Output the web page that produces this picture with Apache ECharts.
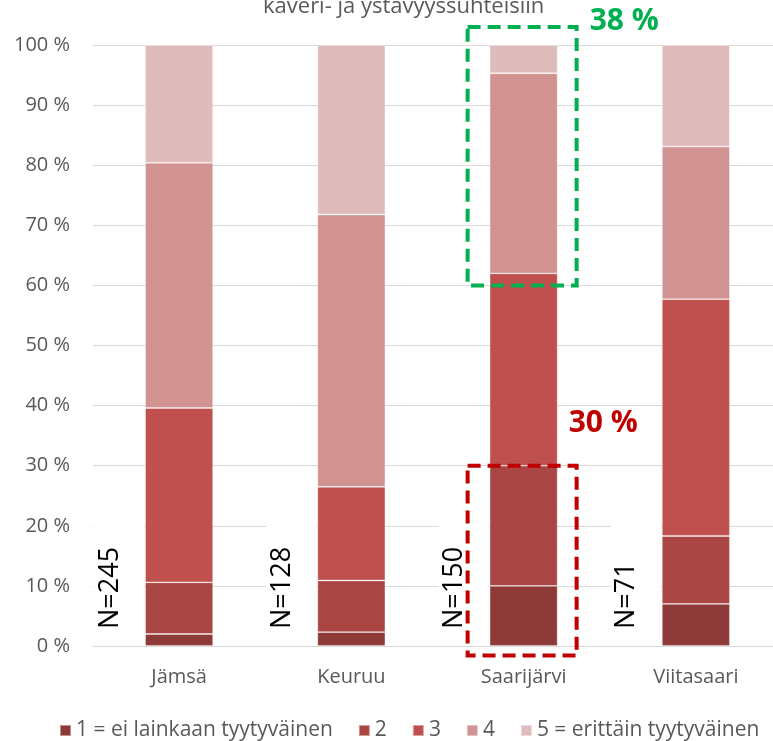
<!DOCTYPE html>
<html>
<head>
<meta charset="utf-8">
<script src="https://cdn.jsdelivr.net/npm/echarts@6/dist/echarts.min.js"></script>
<style>
  html, body { margin: 0; padding: 0; background: #fff; }
  #main { width: 773px; height: 741px; }
</style>
</head>
<body>
<div id="main"></div>
<script>
// paikkakunnat ja vastaajamäärät
const kunnat = ['Jämsä', 'Keuruu', 'Saarijärvi', 'Viitasaari'];
const nLuvut = ['N=245', 'N=128', 'N=150', 'N=71'];

// osuudet (%) vastausvaihtoehdoittain
const v1 = [2.0, 2.3, 10.0, 7.0];
const v2 = [8.6, 8.6, 20.0, 11.3];
const v3 = [29.0, 15.6, 32.0, 39.4];
const v4 = [40.8, 45.3, 33.3, 25.4];
const v5 = [19.6, 28.2, 4.7, 16.9];

const sarjaNimet = ['1 = ei lainkaan tyytyväinen', '2', '3', '4', '5 = erittäin tyytyväinen'];
const varit = ['#8E3A38', '#A94643', '#C0504D', '#D19391', '#E0BBBB'];

// korostukset Saarijärven pylväässä
const korostusKunta = 'Saarijärvi';
const vihreaTeksti = '38 %';
const punainenTeksti = '30 %';

const fontti = '"Open Sans", "Noto Sans", sans-serif';
const harmaa = '#595959';

let myChart = echarts.init(document.getElementById('main'));

let option = {
    backgroundColor: '#fff',
    animation: false,
    title: {
        text: 'kaveri- ja ystävyyssuhteisiin',
        left: 258,
        top: -9,
        textStyle: {
            color: harmaa,
            fontFamily: fontti,
            fontWeight: 'normal',
            fontSize: 22
        }
    },
    grid: {
        left: 93,
        width: 689,
        top: 45,
        bottom: 95,
        outerBoundsMode: 'none',
        containLabel: false
    },
    legend: {
        bottom: -5,
        left: 54,
        icon: 'rect',
        itemWidth: 11,
        itemHeight: 11,
        itemGap: 25,
        textStyle: {
            color: harmaa,
            fontFamily: fontti,
            fontSize: 21
        },
        data: sarjaNimet
    },
    xAxis: {
        type: 'category',
        data: kunnat,
        axisLine: { lineStyle: { color: '#D9D9D9', width: 1 } },
        axisTick: { show: false },
        axisLabel: {
            color: harmaa,
            fontFamily: fontti,
            fontSize: 20,
            margin: 21
        }
    },
    yAxis: {
        type: 'value',
        min: 0,
        max: 100,
        interval: 10,
        axisLine: { show: false },
        axisTick: { show: false },
        splitLine: { lineStyle: { color: '#D9D9D9', width: 1 } },
        axisLabel: {
            color: harmaa,
            fontFamily: fontti,
            fontSize: 20,
            margin: 23,
            formatter: '{value} %'
        }
    },
    series: [v1, v2, v3, v4, v5].map(function (arvot, i) {
        return {
            name: sarjaNimet[i],
            type: 'bar',
            stack: 'kaikki',
            barWidth: 68,
            data: arvot,
            itemStyle: {
                color: varit[i],
                borderColor: 'rgba(255,255,255,0.45)',
                borderWidth: 0.8
            }
        };
    })
};
myChart.setOption(option);

// N-tekstit, katkoviivalaatikot ja prosenttitekstit lasketaan akselien kautta
function piirraLisat() {
    let grafiikka = [];
    let kaistaLeveys = myChart.convertToPixel({ xAxisIndex: 0 }, kunnat[1]) - myChart.convertToPixel({ xAxisIndex: 0 }, kunnat[0]);
    let nollaY = myChart.convertToPixel({ yAxisIndex: 0 }, 0);

    for (let i = 0; i < kunnat.length; i++) {
        let cx = myChart.convertToPixel({ xAxisIndex: 0 }, kunnat[i]);
        let vasen = cx - kaistaLeveys / 2;
        grafiikka.push({
            type: 'rect',
            shape: { x: vasen + 1, y: nollaY - 126, width: 50, height: 124 },
            style: { fill: '#fff' },
            z: 5
        });
        grafiikka.push({
            type: 'text',
            x: vasen + 17,
            y: nollaY - 17,
            rotation: Math.PI / 2,
            style: {
                text: nLuvut[i],
                fill: '#000',
                font: '27px ' + fontti,
                align: 'left',
                verticalAlign: 'middle'
            },
            z: 6
        });
    }

    let kx = myChart.convertToPixel({ xAxisIndex: 0 }, korostusKunta);
    let laatikkoVasen = kx - 56;
    let laatikkoLeveys = 109;

    // vihreä laatikko 60 %:sta yläreunan yli
    let vYla = myChart.convertToPixel({ yAxisIndex: 0 }, 103);
    let vAla = myChart.convertToPixel({ yAxisIndex: 0 }, 60);
    grafiikka.push({
        type: 'rect',
        shape: { x: laatikkoVasen, y: vYla, width: laatikkoLeveys, height: vAla - vYla },
        style: { fill: 'none', stroke: '#00B050', lineWidth: 4, lineDash: [13, 7] },
        z: 10
    });
    grafiikka.push({
        type: 'text',
        x: kx + 66,
        y: myChart.convertToPixel({ yAxisIndex: 0 }, 104),
        style: {
            text: vihreaTeksti,
            fill: '#00B050',
            font: 'bold 30px ' + fontti,
            verticalAlign: 'middle'
        },
        z: 10
    });

    // punainen laatikko 0–30 %
    let pYla = myChart.convertToPixel({ yAxisIndex: 0 }, 30);
    let pAla = myChart.convertToPixel({ yAxisIndex: 0 }, -1.6);
    grafiikka.push({
        type: 'rect',
        shape: { x: laatikkoVasen, y: pYla, width: laatikkoLeveys, height: pAla - pYla },
        style: { fill: 'none', stroke: '#C00000', lineWidth: 4, lineDash: [13, 7] },
        z: 10
    });
    grafiikka.push({
        type: 'text',
        x: kx + 45,
        y: myChart.convertToPixel({ yAxisIndex: 0 }, 37),
        style: {
            text: punainenTeksti,
            fill: '#C00000',
            font: 'bold 30px ' + fontti,
            verticalAlign: 'middle'
        },
        z: 10
    });

    myChart.setOption({ graphic: grafiikka });
}
piirraLisat();
</script>
</body>
</html>
